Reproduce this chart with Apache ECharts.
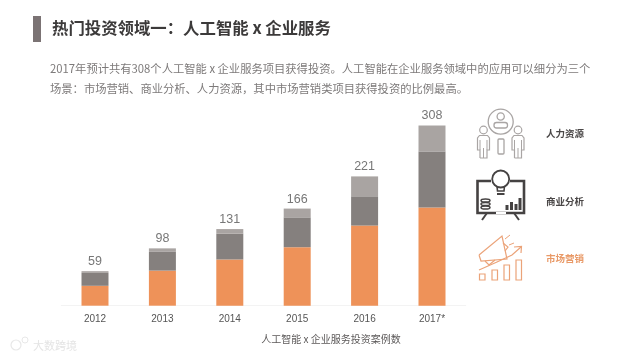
<!DOCTYPE html>
<html>
<head>
<meta charset="utf-8">
<style>
	html, body { margin: 0; padding: 0; background: #fff; }
	#main { width: 640px; height: 358px; }
</style>
</head>
<body>
<div id="main"></div>
<script src="https://cdn.jsdelivr.net/npm/echarts@6/dist/echarts.min.js"></script>
<script>
const years = ['2012', '2013', '2014', '2015', '2016', '2017*'];
const totals = [59, 98, 131, 166, 221, 308];
const marketing = [34, 60, 79, 100, 137, 168];
const analysis = [22, 32, 44, 51, 50, 95];
const hr = [3, 6, 8, 15, 34, 45];

const CJK = '"Noto Sans CJK SC", sans-serif';
const GREY = '#a9a5a4';
const DARK = '#454242';
const ORANGE = '#eba379';

const text = (x, y, str, size, fill, weight, align) => ({
	type: 'text',
	silent: true,
	style: { x, y, text: str, fontSize: size, fontFamily: CJK, fill, fontWeight: weight || 'normal', align: align || 'left', verticalAlign: 'middle' }
});
const stroke = (color, w) => ({ stroke: color, lineWidth: w, fill: 'none' });
const circle = (cx, cy, r, color, w, fill) => ({
	type: 'circle', shape: { cx, cy, r }, style: { stroke: color, lineWidth: w, fill: fill || 'none' }
});
const rect = (x, y, width, height, color, w, r) => ({
	type: 'rect', shape: { x, y, width, height, r: r || 0 }, style: stroke(color, w)
});
const solid = (x, y, width, height, color) => ({
	type: 'rect', shape: { x, y, width, height }, style: { fill: color }
});
const poly = (points, color, w) => ({
	type: 'polyline', shape: { points }, style: stroke(color, w)
});

// standing figure of the hr icon
const figure = (cx) => [
	circle(cx, 130, 3.8, GREY, 1.2),
	poly([[cx - 3.5, 158], [cx - 3.5, 150], [cx - 6, 150], [cx - 6, 138], [cx - 4, 135.5], [cx + 4, 135.5], [cx + 6, 138], [cx + 6, 150], [cx + 3.5, 150], [cx + 3.5, 158], [cx - 3.5, 158]], GREY, 1.2),
	poly([[cx, 148], [cx, 158]], GREY, 1),
	poly([[cx - 3.5, 140], [cx - 3.5, 150]], GREY, 1),
	poly([[cx + 3.5, 140], [cx + 3.5, 150]], GREY, 1)
];

const hrIcon = [
	circle(500.7, 121.7, 12.5, GREY, 1.3),
	circle(500.7, 116.5, 3.6, GREY, 1.3),
	rect(494, 122.5, 13.5, 5.5, GREY, 1.3, 2.5),
	rect(498, 139, 6, 15, GREY, 1.3, 1)
].concat(figure(483.5), figure(518));

const screenIcon = [
	poly([[491, 181], [477.5, 181], [477.5, 213], [524, 213], [524, 181], [510, 181]], DARK, 2.6),
	poly([[487, 213], [482, 220]], DARK, 2),
	poly([[514, 213], [519, 220]], DARK, 2),
	solid(496, 212, 10, 2, '#fff'),
	circle(500.7, 179, 8.5, DARK, 1.8, '#fff'),
	poly([[497, 186], [497.5, 191], [504, 191], [504.5, 186]], DARK, 1.6),
	solid(497, 193, 7.5, 2, DARK),
	{ type: 'ellipse', shape: { cx: 485.5, cy: 200.5, rx: 4.5, ry: 1.6 }, style: stroke(DARK, 1.5) },
	{ type: 'ellipse', shape: { cx: 485.5, cy: 204, rx: 4.5, ry: 1.6 }, style: stroke(DARK, 1.5) },
	{ type: 'ellipse', shape: { cx: 485.5, cy: 207.5, rx: 4.5, ry: 1.6 }, style: stroke(DARK, 1.5) },
	solid(505.5, 205, 3, 5, DARK),
	solid(510, 202, 3, 8, DARK),
	solid(514.5, 204, 3, 6, DARK),
	solid(518.5, 198, 3, 12, DARK)
];

const marketIcon = [
	poly([[479, 255], [502, 236], [507, 259], [481, 261], [479, 255]], ORANGE, 1.2),
	poly([[485, 261], [489, 265], [495, 260]], ORANGE, 1.2),
	poly([[503, 243], [508, 247], [505, 251]], ORANGE, 1.2),
	poly([[505, 239], [510, 235]], ORANGE, 1),
	poly([[509, 245], [514, 243]], ORANGE, 1),
	poly([[479, 270], [497, 262], [512, 255], [521, 247]], ORANGE, 1.2),
	poly([[514, 247], [521.5, 246.5], [521, 253]], ORANGE, 1.2),
	rect(479.5, 274, 5.5, 6, ORANGE, 1.2),
	rect(492, 270, 5.5, 10, ORANGE, 1.2),
	rect(504, 265, 5.5, 15, ORANGE, 1.2),
	rect(516, 260, 5.5, 20, ORANGE, 1.2)
];

var myChart = echarts.init(document.getElementById('main'), null, { renderer: 'canvas' });
var option = {
	animation: false,
	backgroundColor: '#fff',
	grid: { left: 61.3, width: 404.4, top: 125.5, height: 180.2 },
	xAxis: {
		type: 'category',
		data: years,
		axisLine: { lineStyle: { color: '#f3f3f3', width: 1 } },
		axisTick: { show: false },
		axisLabel: { color: '#555', fontSize: 10, fontFamily: 'Liberation Sans', margin: 9 }
	},
	yAxis: { type: 'value', min: 0, max: 308, show: false },
	series: [
		{ name: '市场营销', type: 'bar', stack: 'total', barWidth: 27, data: marketing, itemStyle: { color: '#ee9259' } },
		{ name: '商业分析', type: 'bar', stack: 'total', data: analysis, itemStyle: { color: '#85807e' } },
		{
			name: '人力资源',
			type: 'bar',
			stack: 'total',
			data: hr,
			itemStyle: { color: '#a9a4a2' },
			label: {
				show: true,
				position: 'top',
				distance: 3,
				formatter: (p) => totals[p.dataIndex],
				color: '#777',
				fontSize: 12.5,
				fontFamily: 'Liberation Sans'
			}
		}
	],
	graphic: [
		solid(33, 16, 8, 26, '#7b7374'),
		text(52, 28, '热门投资领域一：人工智能 x 企业服务', 16.4, '#3c3a3a', 'bold'),
		text(50, 69, '2017年预计共有308个人工智能 x 企业服务项目获得投资。人工智能在企业服务领域中的应用可以细分为三个', 11.3, '#7d7a7a'),
		text(50, 89, '场景：市场营销、商业分析、人力资源，其中市场营销类项目获得投资的比例最高。', 11.3, '#7d7a7a'),
		text(565, 133, '人力资源', 9.5, '#4a4747', 'bold', 'center'),
		text(565, 201, '商业分析', 9.5, '#4a4747', 'bold', 'center'),
		text(565, 258, '市场营销', 9.5, '#e99a68', 'bold', 'center'),
		text(331, 339, '人工智能 x 企业服务投资案例数', 10, '#5c5959', 'normal', 'center'),
		text(33, 346, '大数跨境', 11, '#e4e4e4'),
		circle(16, 345, 5, '#e8e8e8', 1.2),
		circle(25, 340, 3, '#e8e8e8', 1)
	].concat(hrIcon, screenIcon, marketIcon),
};
option && myChart.setOption(option);
</script>
</body>
</html>
